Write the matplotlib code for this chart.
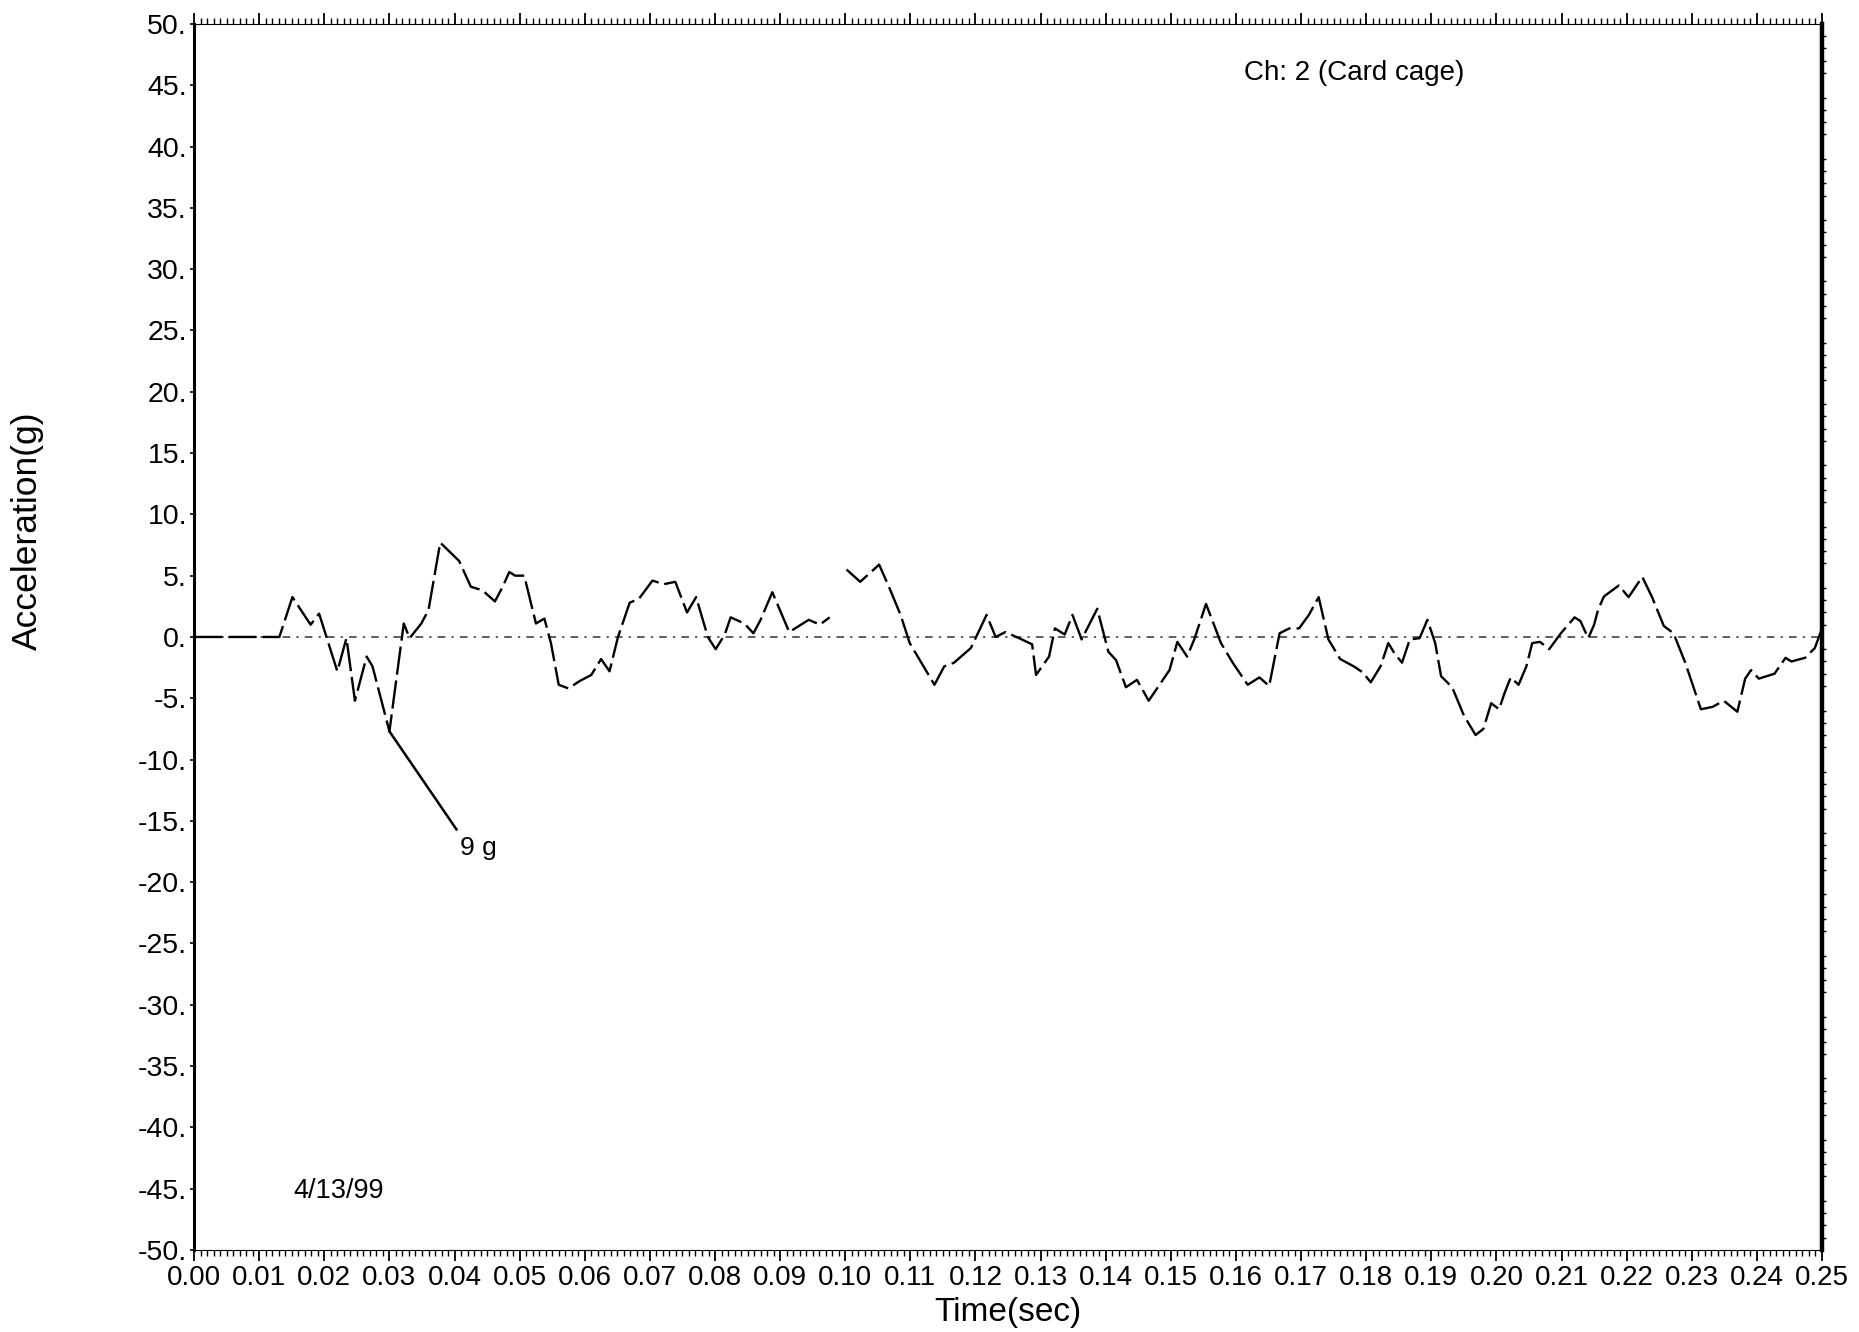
import matplotlib
matplotlib.use("Agg")
import matplotlib.pyplot as plt
import numpy as np
from matplotlib.ticker import FixedLocator, FixedFormatter, MultipleLocator

plt.rcParams['font.family'] = ['Liberation Sans', 'DejaVu Sans']

# ---- data ----
time_s = [0.0000, 0.0131, 0.0151, 0.0179, 0.0192, 0.0220, 0.0234, 0.0247, 0.0265, 0.0274,
          0.0300, 0.0322, 0.0331, 0.0349, 0.0360, 0.0378, 0.0407, 0.0425, 0.0443, 0.0462,
          0.0474, 0.0484, 0.0493, 0.0507, 0.0525, 0.0538, 0.0548, 0.0560, 0.0575, 0.0592,
          0.0610, 0.0625, 0.0638, 0.0651, 0.0669, 0.0683, 0.0704, 0.0721, 0.0739, 0.0757,
          0.0771, 0.0789, 0.0801, 0.0815, 0.0824, 0.0845, 0.0859, 0.0870, 0.0888, 0.0914,
          0.0944, 0.0961, 0.0976, 0.0989, 0.1002, 0.1023, 0.1052, 0.1067, 0.1085, 0.1099,
          0.1137, 0.1152, 0.1167, 0.1193, 0.1217, 0.1231, 0.1246, 0.1267, 0.1287, 0.1293,
          0.1313, 0.1322, 0.1337, 0.1349, 0.1363, 0.1387, 0.1404, 0.1416, 0.1431, 0.1448,
          0.1466, 0.1498, 0.1510, 0.1525, 0.1536, 0.1554, 0.1577, 0.1595, 0.1618, 0.1636,
          0.1651, 0.1667, 0.1682, 0.1697, 0.1712, 0.1727, 0.1742, 0.1760, 0.1781, 0.1795,
          0.1807, 0.1822, 0.1834, 0.1843, 0.1855, 0.1867, 0.1882, 0.1894, 0.1906, 0.1915,
          0.1932, 0.1950, 0.1968, 0.1980, 0.1992, 0.2004, 0.2013, 0.2022, 0.2034, 0.2046,
          0.2055, 0.2067, 0.2081, 0.2099, 0.2120, 0.2129, 0.2141, 0.2150, 0.2156, 0.2165,
          0.2188, 0.2203, 0.2224, 0.2239, 0.2257, 0.2272, 0.2290, 0.2314, 0.2332, 0.2349,
          0.2370, 0.2382, 0.2391, 0.2403, 0.2427, 0.2444, 0.2453, 0.2474, 0.2489, 0.2500]
accel_g = [0.0, 0.0, 3.25, 1.0, 1.9, -2.8, -0.1, -5.2, -1.6, -2.4,
           -7.7, 1.1, -0.1, 1.1, 2.2, 7.7, 6.2, 4.1, 3.8, 2.9,
           4.1, 5.3, 5.0, 5.0, 1.1, 1.5, -0.5, -3.9, -4.2, -3.6,
           -3.1, -1.8, -2.8, 0.0, 2.8, 3.1, 4.6, 4.3, 4.5, 2.0,
           3.25, 0.0, -1.0, 0.2, 1.6, 1.1, 0.3, 1.4, 3.65, 0.4,
           1.4, 1.0, 1.6, np.nan, 5.5, 4.5, 5.9, 4.1, 1.8, -0.5,
           -3.9, -2.4, -2.1, -0.9, 1.8, 0.0, 0.4, -0.1, -0.6, -3.1,
           -1.6, 0.7, 0.2, 1.8, -0.2, 2.3, -1.2, -1.9, -4.1, -3.5,
           -5.2, -2.7, -0.4, -1.6, -0.2, 2.7, -0.5, -2.1, -3.9, -3.3,
           -4.0, 0.3, 0.7, 0.7, 1.8, 3.25, -0.2, -1.8, -2.4, -2.9,
           -3.7, -2.4, -0.5, -1.3, -2.1, -0.2, -0.1, 1.4, -0.5, -3.2,
           -4.1, -6.4, -8.0, -7.5, -5.4, -5.9, -4.5, -3.3, -3.9, -2.4,
           -0.5, -0.4, -1.0, 0.3, 1.6, 1.3, -0.1, 1.0, 2.2, 3.3,
           4.2, 3.25, 4.9, 3.25, 0.9, 0.3, -2.1, -5.9, -5.7, -5.2,
           -6.1, -3.4, -2.7, -3.4, -3.0, -1.7, -2.0, -1.7, -0.9, 0.7]

x_ticks = [0.00, 0.01, 0.02, 0.03, 0.04, 0.05, 0.06, 0.07, 0.08, 0.09, 0.10, 0.11, 0.12,
           0.13, 0.14, 0.15, 0.16, 0.17, 0.18, 0.19, 0.20, 0.21, 0.22, 0.23, 0.24, 0.25]
x_labels = ["0.00", "0.01", "0.02", "0.03", "0.04", "0.05", "0.06", "0.07", "0.08", "0.09",
            "0.10", "0.11", "0.12", "0.13", "0.14", "0.15", "0.16", "0.17", "0.18", "0.19",
            "0.20", "0.21", "0.22", "0.23", "0.24", "0.25"]
y_ticks = [50, 45, 40, 35, 30, 25, 20, 15, 10, 5, 0, -5, -10, -15, -20, -25, -30, -35, -40, -45, -50]
y_labels = ["50.", "45.", "40.", "35.", "30.", "25.", "20.", "15.", "10.", "5.", "0.",
            "-5.", "-10.", "-15.", "-20.", "-25.", "-30.", "-35.", "-40.", "-45.", "-50."]

peak_time, peak_value = 0.0300, -7.7
peak_label = "9 g"
peak_label_pos = (0.0403, -15.7)
channel_label = "Ch: 2 (Card cage)"
date_label = "4/13/99"

# ---- figure ----
fig = plt.figure(figsize=(18.59, 13.32), dpi=100)
ax = fig.add_axes([0.1044, 0.0616, 0.8757, 0.9204])

ax.axhline(0, color='0.2', lw=1.1, ls=(0, (5, 4, 1.5, 4)), zorder=1)
ax.plot(time_s, accel_g, color='black', lw=1.7, ls=(0, (12, 2.5)), zorder=3)

ax.plot([peak_time, peak_label_pos[0]], [peak_value, peak_label_pos[1]], color='black', lw=1.8, zorder=3)
ax.text(peak_label_pos[0] + 0.0005, peak_label_pos[1] - 1.5, peak_label, fontsize=19,
        ha='left', va='center')

ax.text(0.1782, 46.0, channel_label, fontsize=20, ha='center', va='center')
ax.text(0.0222, -45.2, date_label, fontsize=19.5, ha='center', va='center')

ax.set_xlim(0, 0.25)
ax.set_ylim(-50, 50)

ax.xaxis.set_major_locator(FixedLocator(x_ticks))
ax.xaxis.set_major_formatter(FixedFormatter(x_labels))
ax.xaxis.set_minor_locator(MultipleLocator(0.001))
ax.yaxis.set_major_locator(FixedLocator(y_ticks))
ax.yaxis.set_major_formatter(FixedFormatter(y_labels))
ax.yaxis.set_minor_locator(MultipleLocator(1))

ax.tick_params(axis='x', which='major', direction='out', length=8, width=1.3,
               top=True, bottom=True, labelsize=20, pad=3)
ax.tick_params(axis='x', which='minor', direction='out', length=4.5, width=1.0,
               top=True, bottom=True)
ax.tick_params(axis='y', which='major', direction='out', length=3, width=1.2,
               left=True, right=False, labelsize=20.5, pad=2)
ax.tick_params(axis='y', which='minor', direction='out', length=3, width=1.0,
               left=False, right=True)

for side, lw in (('left', 2.2), ('right', 3.2), ('top', 0.8), ('bottom', 0.8)):
    ax.spines[side].set_linewidth(lw)
    ax.spines[side].set_color('black')

fig.text(1008 / 1859, 1 - 1312 / 1332, "Time(sec)", fontsize=24, ha='center', va='center')
fig.text(27 / 1859, 1 - 531 / 1332, "Acceleration(g)", fontsize=25.5, ha='center', va='center',
         rotation=90)

fig.savefig("out.png", dpi=100, facecolor='white')
